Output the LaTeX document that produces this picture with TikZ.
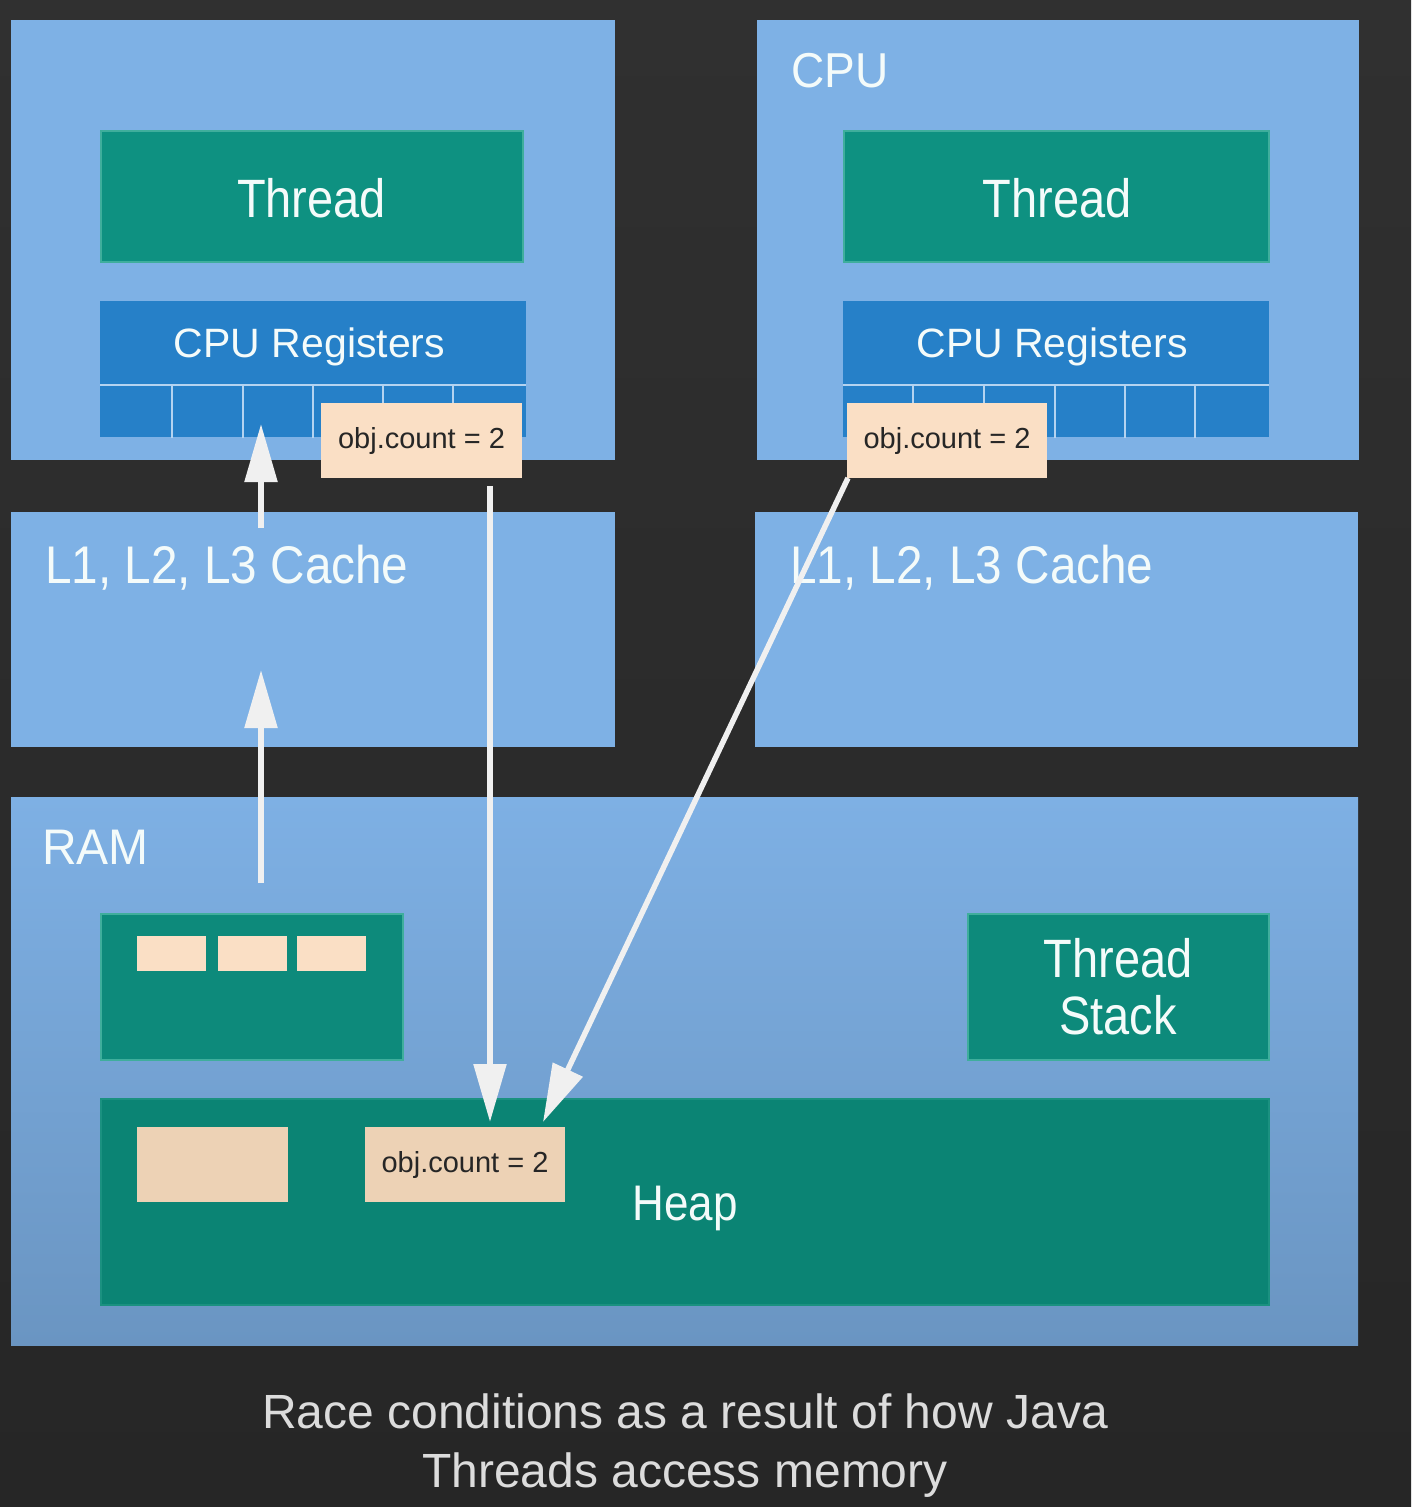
\documentclass[tikz,border=0pt]{standalone}
\usepackage{fontspec}
\setmainfont{Liberation Sans}
\usetikzlibrary{arrows.meta}
\definecolor{bgtop}{HTML}{303030}
\definecolor{bgbot}{HTML}{262626}
\definecolor{lblue}{HTML}{7EB1E5}
\definecolor{ramtop}{HTML}{7EB0E4}
\definecolor{rambot}{HTML}{6A95C2}
\definecolor{teal}{HTML}{0E9181}
\definecolor{tealdk}{HTML}{0B8474}
\definecolor{tealbd}{HTML}{3FAE9C}
\definecolor{regblue}{HTML}{2680C8}
\definecolor{gridln}{HTML}{B4D3F0}
\definecolor{peach}{HTML}{FADFC5}
\definecolor{peachdk}{HTML}{EDD2B5}
\definecolor{txtw}{HTML}{F4FBFA}
\definecolor{arrw}{HTML}{F0F0F0}
\definecolor{captxt}{HTML}{DCDCDC}
\tikzset{
  box/.style={rectangle, inner sep=0pt, outer sep=0pt},
  panel/.style={box, fill=lblue},
  tealbox/.style={box, fill=teal, draw=tealbd, line width=2pt},
  regbox/.style={box, fill=regblue},
  chip/.style={box, fill=peach},
  objbox/.style={box, fill=peach, text=black!85, font=\fontsize{29}{33}\selectfont},
  wlabel/.style={text=txtw, inner sep=0pt},
  gridline/.style={draw=gridln, line width=2.5pt},
  wire/.style={draw=arrw, line width=5.5pt, -{Triangle[width=32pt,length=58pt]}},
}
\begin{document}
\begin{tikzpicture}[x=1pt,y=-1pt]
\useasboundingbox (0,0) rectangle (1411,1507);
\shade[top color=bgtop, bottom color=bgbot] (0,0) rectangle (1411,1507);

% CPU panels
\node[panel, minimum width=604pt, minimum height=440pt] (cpuL) at (313,240) {};
\node[panel, minimum width=602pt, minimum height=440pt] (cpuR) at (1058,240) {};
\node[wlabel, anchor=base west, xscale=0.94, font=\fontsize{49}{55}\selectfont] (cpulbl) at (791,87) {CPU};

% Threads
\node[tealbox, minimum width=422pt, minimum height=131pt] (thrL) at (312,196.5) {};
\node[tealbox, minimum width=425pt, minimum height=131pt] (thrR) at (1056.5,196.5) {};
\node[wlabel, anchor=base, xscale=0.87, font=\fontsize{54}{60}\selectfont] (thrLt) at (311.5,217) {Thread};
\node[wlabel, anchor=base, xscale=0.87, font=\fontsize{54}{60}\selectfont] (thrRt) at (1057,217) {Thread};

% Registers
\node[regbox, minimum width=426pt, minimum height=136pt] (regL) at (313,369) {};
\node[regbox, minimum width=426pt, minimum height=136pt] (regR) at (1056,369) {};
\node[wlabel, anchor=base, font=\fontsize{41}{46}\selectfont] (regLt) at (309.5,357) {CPU Registers};
\node[wlabel, anchor=base, font=\fontsize{41}{46}\selectfont] (regRt) at (1052,357) {CPU Registers};
\draw[gridline] (100,385) -- (526,385);
\foreach \gx in {172,243,313,383,453} \draw[gridline] (\gx,385) -- (\gx,438);
\draw[gridline] (843,385) -- (1269,385);
\foreach \gx in {913,984,1055,1125,1195} \draw[gridline] (\gx,385) -- (\gx,438);

% Caches
\node[panel, minimum width=604pt, minimum height=235pt] (cacheL) at (313,629.5) {};
\node[panel, minimum width=603pt, minimum height=235pt] (cacheR) at (1056.5,629.5) {};
\node[wlabel, anchor=base west, xscale=0.90, font=\fontsize{53}{60}\selectfont] (cacheLt) at (45,583) {L1, L2, L3 Cache};
\node[wlabel, anchor=base west, xscale=0.90, font=\fontsize{53}{60}\selectfont] (cacheRt) at (790,583) {L1, L2, L3 Cache};

% RAM
\node[box, top color=ramtop, bottom color=rambot, minimum width=1347pt, minimum height=548pt] (ram) at (684.5,1071) {};
\node[wlabel, anchor=base west, xscale=0.96, font=\fontsize{50}{56}\selectfont] (ramt) at (42,864) {RAM};

\node[tealbox, fill=teal!95!black, minimum width=302pt, minimum height=146pt] (stk) at (252,987) {};
\node[chip, minimum width=69pt, minimum height=35pt] (p1) at (171.5,953.5) {};
\node[chip, minimum width=69pt, minimum height=35pt] (p2) at (252.5,953.5) {};
\node[chip, minimum width=69pt, minimum height=35pt] (p3) at (331.5,953.5) {};

\node[tealbox, fill=teal!95!black, minimum width=301pt, minimum height=146pt] (tstk) at (1118.5,987) {};
\node[wlabel, anchor=base, xscale=0.87, font=\fontsize{54}{60}\selectfont] (tstkt1) at (1118,977) {Thread};
\node[wlabel, anchor=base, xscale=0.87, font=\fontsize{54}{60}\selectfont] (tstkt2) at (1118,1034) {Stack};

\node[tealbox, fill=tealdk, draw=tealdk!70!tealbd, minimum width=1168pt, minimum height=206pt] (heap) at (685,1202) {};
\node[wlabel, anchor=base, xscale=0.88, font=\fontsize{50}{56}\selectfont] (heapt) at (685,1220) {Heap};
\node[chip, fill=peachdk, minimum width=151pt, minimum height=75pt] (hp) at (212.5,1164.5) {};
\node[objbox, fill=peachdk, minimum width=200pt, minimum height=75pt] (hobj) at (465,1164.5) {obj.count = 2};

% Arrows
\coordinate (a1s) at (261,883);
\coordinate (a1e) at (261,670);
\coordinate (a2s) at (261,528);
\coordinate (a2e) at (261,424);
\coordinate (a3s) at (490,486);
\coordinate (a3e) at (490,1122);
\coordinate (a4s) at (848,478);
\coordinate (a4e) at (543,1122);
\draw[wire] (a1s) -- (a1e);
\draw[wire] (a2s) -- (a2e);
\draw[wire] (a3s) -- (a3e);
\draw[wire] (a4s) -- (a4e);

% obj.count boxes in registers
\node[objbox, minimum width=201pt, minimum height=75pt] (objL) at (421.5,440.5) {obj.count = 2};
\node[objbox, minimum width=200pt, minimum height=75pt] (objR) at (947,440.5) {obj.count = 2};

% Caption
\node[text=captxt, inner sep=0pt, anchor=base, font=\fontsize{48}{59}\selectfont] (cap1) at (685,1428) {Race conditions as a result of how Java};
\node[text=captxt, inner sep=0pt, anchor=base, font=\fontsize{48}{59}\selectfont] (cap2) at (685,1487) {Threads access memory};
\end{tikzpicture}
\end{document}
